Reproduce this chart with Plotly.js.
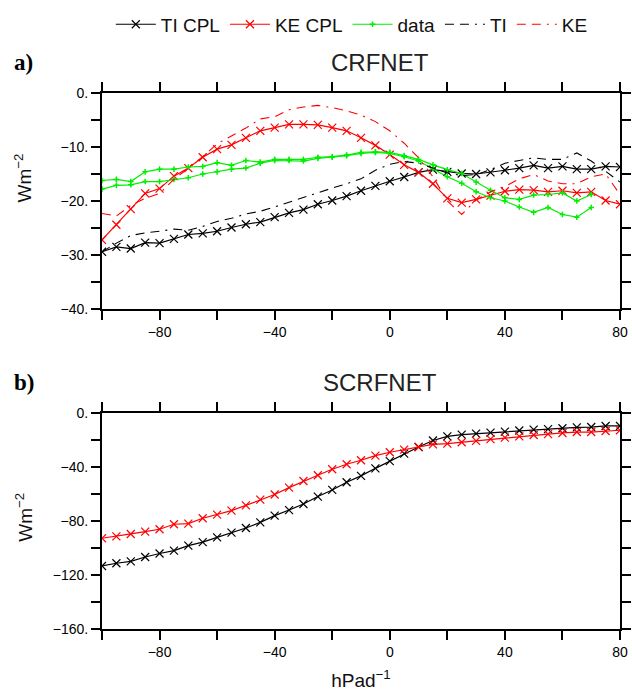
<!DOCTYPE html>
<html>
<head>
<meta charset="utf-8">
<script src="https://cdn.plot.ly/plotly-3.0.1.min.js"></script>
<style>html,body{margin:0;padding:0;background:#fff;}#chart{width:632px;height:693px;}</style>
</head>
<body>
<div id="chart"></div>
<script>
// x positions (hPa d^-1)
const xGrid = [-100,-95,-90,-85,-80,-75,-70,-65,-60,-55,-50,-45,-40,-35,-30,-25,-20,-15,-10,-5,0,5,10,15,20,25,30,35,40,45,50,55,60,65,70,75,80];
const xData = [-100,-95,-90,-85,-80,-75,-70,-65,-60,-55,-50,-45,-40,-35,-30,-25,-20,-15,-10,-5,0,5,10,15,20,25,30,35,40,45,50,55,60,65,70];

// a) CRFNET
const crfTiCpl = [-29.4,-28.5,-28.8,-27.7,-27.8,-27.0,-26.2,-26.0,-25.6,-24.9,-24.3,-23.9,-23.0,-22.2,-21.6,-20.6,-19.9,-19.1,-18.1,-17.2,-16.35,-15.55,-14.7,-14.2,-14.6,-14.9,-15.0,-14.7,-14.3,-13.9,-13.4,-13.9,-13.6,-14.1,-14.1,-13.6,-13.7];
const crfKeCpl = [-27.2,-24.4,-21.5,-18.6,-17.7,-15.4,-13.9,-11.9,-10.4,-9.6,-8.3,-7.0,-6.4,-5.8,-5.8,-5.9,-6.4,-7.0,-8.3,-9.7,-11.4,-13.3,-14.7,-16.8,-19.5,-20.3,-19.7,-19.0,-18.2,-17.9,-18.0,-18.3,-18.1,-18.5,-18.3,-19.9,-20.6];
const crfData1 = [-16.2,-16.0,-16.4,-14.6,-14.1,-14.1,-13.7,-13.6,-12.9,-13.4,-12.5,-12.8,-12.3,-12.3,-12.3,-11.9,-11.8,-11.5,-11.0,-10.9,-11.0,-11.6,-12.3,-13.3,-14.2,-14.9,-16.5,-18.0,-19.4,-19.7,-18.9,-18.8,-18.5,-20.0,-18.8];
const crfData2 = [-17.8,-17.1,-17.0,-16.4,-16.4,-16.0,-15.7,-15.0,-14.6,-14.1,-13.9,-13.0,-12.5,-12.5,-12.6,-12.1,-11.9,-11.6,-11.2,-11.0,-11.2,-11.8,-12.6,-14.0,-15.5,-16.7,-18.3,-19.4,-20.0,-21.1,-22.1,-21.2,-22.5,-23.0,-21.2];
const crfTi = [-29.4,-27.8,-26.4,-25.9,-25.6,-25.2,-25.4,-24.7,-23.8,-23.2,-22.4,-21.9,-21.1,-20.2,-19.4,-18.5,-17.6,-16.8,-15.9,-14.3,-13.2,-12.7,-13.0,-13.9,-14.8,-15.3,-15.1,-14.2,-13.0,-12.5,-12.0,-12.3,-12.3,-11.1,-12.6,-14.5,-16.5];
const crfKe = [-22.3,-22.8,-20.8,-19.5,-18.6,-16.0,-13.9,-11.8,-9.4,-7.9,-6.5,-4.8,-4.4,-3.1,-2.6,-2.3,-2.7,-3.3,-4.1,-5.3,-7.0,-9.3,-12.0,-15.5,-20.0,-22.5,-19.8,-18.3,-17.3,-15.9,-15.1,-16.3,-16.8,-16.8,-15.5,-15.0,-18.8];

// b) SCRFNET
const scrfTiCpl = [-113.3,-111.3,-109.9,-106.7,-104.1,-101.9,-98.2,-95.6,-92.1,-88.6,-85.2,-81.0,-76.0,-71.9,-67.4,-61.9,-57.0,-51.3,-46.6,-41.0,-35.6,-30.1,-25.2,-20.4,-17.3,-16.0,-15.3,-14.5,-13.8,-13.0,-12.3,-11.9,-11.3,-10.6,-10.4,-9.6,-9.6];
const scrfKeCpl = [-92.8,-91.4,-89.6,-87.9,-86.1,-82.4,-81.9,-78.0,-75.3,-72.3,-68.4,-64.2,-60.4,-55.3,-50.4,-46.1,-41.7,-38.0,-35.0,-31.6,-29.1,-27.1,-25.2,-23.2,-22.7,-21.7,-20.7,-19.3,-18.2,-17.3,-16.3,-15.6,-14.8,-14.1,-14.1,-13.3,-12.8];

// tick labels (labelled major ticks) and unlabelled minor ticks
const xTickVals = [-80,-40,0,40,80];
const xTickText = ['\u221280','\u221240','0','40','80'];
const xMinorVals = [-100,-60,-20,20,60];
const yTopVals = [0,-10,-20,-30,-40];
const yTopText = ['0.','\u221210.','\u221220.','\u221230.','\u221240.'];
const yTopMinor = [-5,-15,-25,-35];
const yBotVals = [0,-40,-80,-120,-160];
const yBotText = ['0.','\u221240.','\u221280.','\u2212120.','\u2212160.'];
const yBotMinor = [-20,-60,-100,-140];

const names = ['TI CPL','KE CPL','data','TI','KE'];

const FONT = 'Liberation Sans, Arial, sans-serif';
const dashPat = '9px,6px,9px,6px,2px,6px';
const xMark = (c) => ({symbol:'x-thin', size:8, line:{color:c, width:1.2}, color:c});

const traces = [
  {x:xGrid, y:crfTiCpl, name:names[0], mode:'lines+markers', line:{color:'#000', width:1.2}, marker:xMark('#000'), xaxis:'x', yaxis:'y'},
  {x:xGrid, y:crfKeCpl, name:names[1], mode:'lines+markers', line:{color:'#ff0000', width:1.2}, marker:xMark('#ff0000'), xaxis:'x', yaxis:'y'},
  {x:xData, y:crfData1, name:names[2], mode:'lines+markers', line:{color:'#00ee00', width:1.2}, marker:{symbol:'cross-thin', size:4, line:{color:'#00ee00', width:1.5}}, xaxis:'x', yaxis:'y'},
  {x:xData, y:crfData2, name:names[2], showlegend:false, mode:'lines+markers', line:{color:'#00ee00', width:1.2}, marker:{symbol:'cross-thin', size:4, line:{color:'#00ee00', width:1.5}}, xaxis:'x', yaxis:'y'},
  {x:xGrid, y:crfTi, name:names[3], mode:'lines', line:{color:'#000', width:1.1, dash:dashPat}, xaxis:'x', yaxis:'y'},
  {x:xGrid, y:crfKe, name:names[4], mode:'lines', line:{color:'#ff0000', width:1.1, dash:dashPat}, xaxis:'x', yaxis:'y'},
  {x:xGrid, y:scrfTiCpl, name:names[0], showlegend:false, mode:'lines+markers', line:{color:'#000', width:1.2}, marker:xMark('#000'), xaxis:'x2', yaxis:'y2'},
  {x:xGrid, y:scrfKeCpl, name:names[1], showlegend:false, mode:'lines+markers', line:{color:'#ff0000', width:1.2}, marker:xMark('#ff0000'), xaxis:'x2', yaxis:'y2'}
];

const minorOf = (vals) => ({tickmode:'array', tickvals:vals, ticks:'outside', ticklen:9, tickwidth:2, tickcolor:'#000', showgrid:false});

const axisBase = {
  showline:true, linewidth:2, linecolor:'#000', mirror:'allticks',
  ticks:'outside', ticklen:9, tickwidth:2, tickcolor:'#000',
  showgrid:false, zeroline:false, tickmode:'array',
  tickfont:{family:FONT, size:14, color:'#000'}
};

const layout = {
  width:632, height:693,
  margin:{l:102, r:12, t:93, b:64, autoexpand:false},
  paper_bgcolor:'#fff', plot_bgcolor:'#fff',
  font:{family:FONT, color:'#000'},
  showlegend:true,
  legend:{orientation:'h', x:0.017, xanchor:'left', y:1.128, yanchor:'middle', font:{family:FONT, size:19, color:'#111'}, bgcolor:'rgba(0,0,0,0)', itemwidth:40, tracegroupgap:0},
  xaxis: Object.assign({}, axisBase, {domain:[0,1], anchor:'y', range:[-100,80], tickvals:xTickVals, ticktext:xTickText, minor:minorOf(xMinorVals)}),
  yaxis: Object.assign({}, axisBase, {domain:[0.597,1], anchor:'x', range:[-40,0], tickvals:yTopVals, ticktext:yTopText, minor:minorOf(yTopMinor)}),
  xaxis2: Object.assign({}, axisBase, {domain:[0,1], anchor:'y2', range:[-100,80], tickvals:xTickVals, ticktext:xTickText, minor:minorOf(xMinorVals),
    title:{text:'hPad<sup>\u22121</sup>', font:{family:FONT, size:19, color:'#111'}, standoff:15}}),
  yaxis2: Object.assign({}, axisBase, {domain:[0,0.403], anchor:'x2', range:[-160,0], tickvals:yBotVals, ticktext:yBotText, minor:minorOf(yBotMinor)}),
  annotations:[
    {text:'CRFNET', xref:'paper', yref:'paper', x:0.5367, y:1.057, xanchor:'center', yanchor:'middle', showarrow:false, font:{family:FONT, size:24, color:'#222'}},
    {text:'SCRFNET', xref:'paper', yref:'paper', x:0.5367, y:0.460, xanchor:'center', yanchor:'middle', showarrow:false, font:{family:FONT, size:24, color:'#222'}},
    {text:'Wm<sup>\u22122</sup>', xref:'paper', yref:'paper', x:-0.152, y:0.841, xanchor:'center', yanchor:'middle', textangle:-90, showarrow:false, font:{family:FONT, size:19, color:'#111'}},
    {text:'Wm<sup>\u22122</sup>', xref:'paper', yref:'paper', x:-0.152, y:0.208, xanchor:'center', yanchor:'middle', textangle:-90, showarrow:false, font:{family:FONT, size:19, color:'#111'}},
    {text:'<b>a)</b>', xref:'paper', yref:'paper', x:-0.174, y:1.057, xanchor:'left', yanchor:'middle', showarrow:false, font:{family:'Liberation Serif, Times New Roman, serif', size:23, color:'#000'}},
    {text:'<b>b)</b>', xref:'paper', yref:'paper', x:-0.174, y:0.460, xanchor:'left', yanchor:'middle', showarrow:false, font:{family:'Liberation Serif, Times New Roman, serif', size:23, color:'#000'}}
  ]
};

Plotly.newPlot('chart', traces, layout, {displayModeBar:false, staticPlot:true});
</script>
</body>
</html>
